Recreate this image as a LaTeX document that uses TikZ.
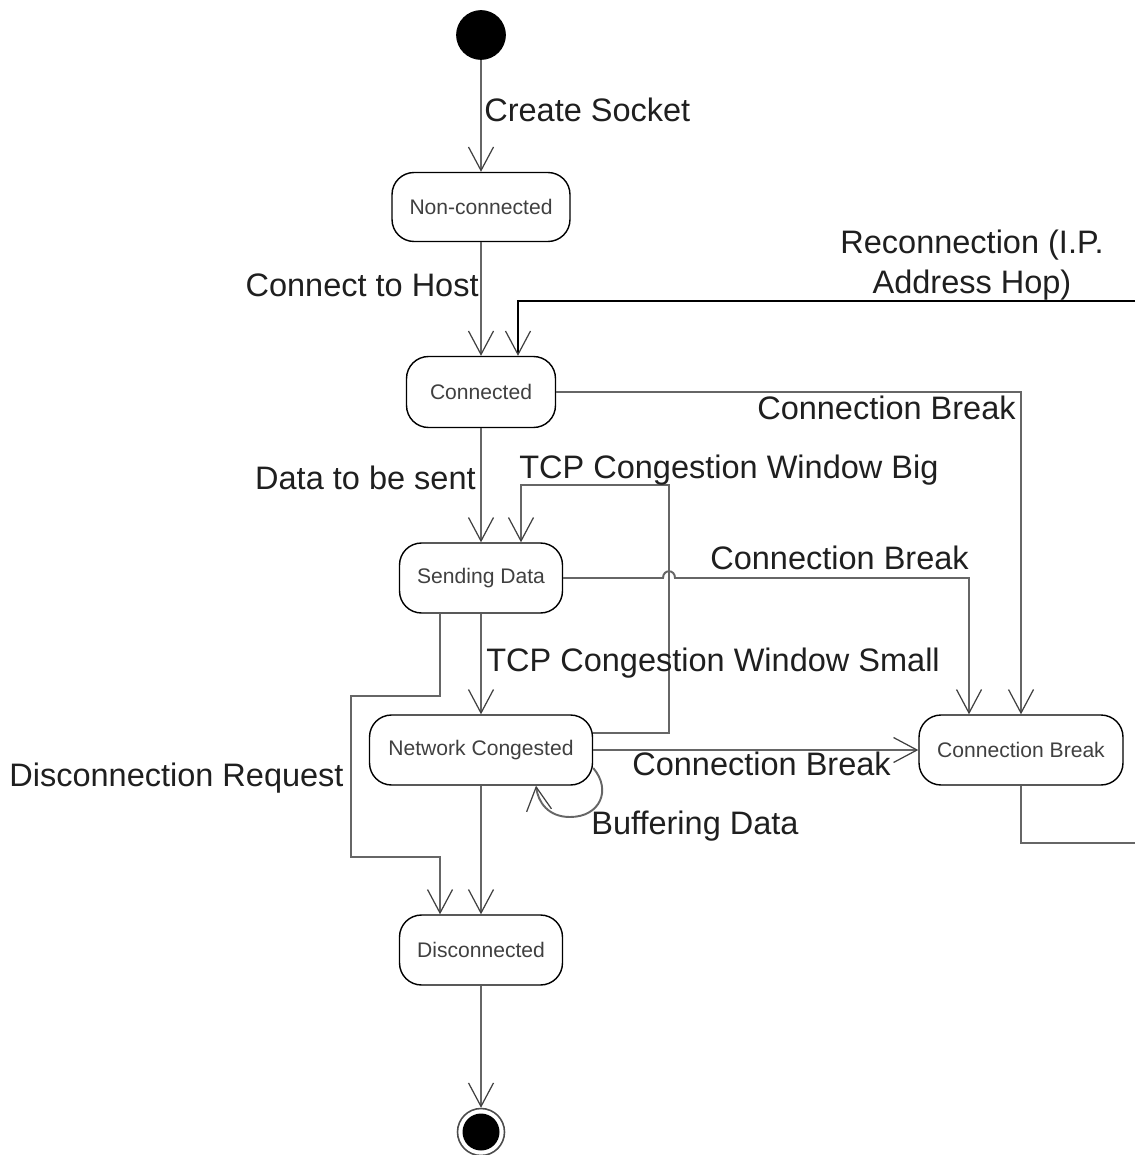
\documentclass[tikz,border=0pt]{standalone}
\usepackage{fontspec}
\setmainfont{Liberation Sans}
\usetikzlibrary{arrows.meta,calc}

\begin{document}
\begin{tikzpicture}[x=0.02cm,y=-0.02cm,
  state/.style={draw=black, line width=0.8pt, rounded corners=0.44cm,
    minimum height=1.4cm, inner sep=0pt, text=black!75,
    font=\fontsize{12}{14}\selectfont},
  lbl/.style={inner sep=0pt, text=black!88,
    font=\fontsize{18.5}{22.7}\selectfont},
  conn/.style={draw=black!60, line width=1.1pt,
    -{Straight Barb[length=0.47cm,width=0.5cm,line width=0.7pt,color=black!75]}},
  plain/.style={draw=black!60, line width=1.1pt},
]
\useasboundingbox (0,0) rectangle (1135,1155);

% initial and final pseudo-states
\node[circle, fill=black, draw=black, minimum size=0.98cm, inner sep=0pt] (start) at (481,35) {};
\node[circle, draw=black!70, line width=0.9pt, fill=white, minimum size=0.94cm, inner sep=0pt,
  path picture={\fill[black] (path picture bounding box.center) circle (0.37cm);}] (final) at (481,1132) {};

% states
\node[state, minimum width=3.56cm, minimum height=1.38cm] (nonconn) at (481,207) {Non-connected};
\node[state, minimum width=2.98cm, minimum height=1.42cm] (conn) at (481,392) {Connected};
\node[state, minimum width=3.26cm] (send) at (481,578) {Sending Data};
\node[state, minimum width=4.46cm] (nc) at (481,750) {Network Congested};
\node[state, minimum width=4.08cm] (cb) at (1021,750) {Connection Break};
\node[state, minimum width=3.26cm] (disc) at (481,950) {Disconnected};

% free ends on the right border
\coordinate (reconIn) at (1135,301);
\coordinate (cbOut) at (1135,843);

% transitions
\draw[conn] (start) -- (nonconn);
\draw[conn] (nonconn) -- (conn);
\draw[conn, draw=black, line width=0.8pt] (reconIn) -| ([xshift=0.74cm]conn.north);
\draw[conn] (conn.east) -| (cb.north);
\draw[conn] (conn) -- (send);
\draw[conn] (send.east) -- (663,578) .. controls (663,569) and (675,569) .. (675,578)
  -| ([xshift=-1.04cm]cb.north);
\draw[conn] (send) -- (nc);
\draw[conn] ([yshift=0.34cm]nc.east) -| (669,485) -| ([xshift=0.8cm]send.north);
\draw[conn] ([xshift=-0.82cm]send.south) -- (440,696) -| (351,857) -| ([xshift=-0.82cm]disc.north);
\draw[conn] (nc.east) -- (cb.west);
\draw[conn] ([yshift=-0.36cm]nc.east) .. controls (612,790) and (600,817) .. (570,817)
  .. controls (548,817) and (538,802) .. ([xshift=1.1cm]nc.south);
\draw[conn] (nc) -- (disc);
\draw[plain] (cb.south) |- (cbOut);
\draw[conn] (disc) -- (final);

% transition labels
\node[lbl, anchor=west] (lCreate) at (484,110) {Create Socket};
\node[lbl, anchor=east] (lHost) at (479,285) {Connect to Host};
\node[lbl, align=center] (lRecon) at (972,265) {Reconnection (I.P.\\Address Hop)};
\node[lbl, anchor=east] (lBreakA) at (1016,408) {Connection Break};
\node[lbl, anchor=east] (lData) at (476,478) {Data to be sent};
\node[lbl, anchor=west] (lBig) at (519,470) {TCP Congestion Window Big};
\node[lbl, anchor=west] (lBreakB) at (710,558) {Connection Break};
\node[lbl, anchor=west] (lSmall) at (486,663) {TCP Congestion Window Small};
\node[lbl, anchor=west] (lDisc) at (9,778) {Disconnection Request};
\node[lbl, anchor=west] (lBreakC) at (632,764) {Connection Break};
\node[lbl, anchor=west] (lBuffer) at (591,826) {Buffering Data};
\end{tikzpicture}
\end{document}
